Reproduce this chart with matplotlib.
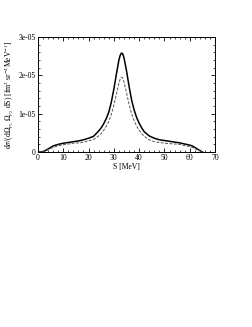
import matplotlib
matplotlib.use("Agg")
import matplotlib.pyplot as plt
from matplotlib.ticker import MultipleLocator, FuncFormatter

plt.rcParams['font.family'] = ['Liberation Serif', 'DejaVu Serif']
plt.rcParams['mathtext.fontset'] = 'stix'

S = [0, 1, 2, 3, 4, 5, 6, 7, 8, 10, 12, 14, 16, 18, 20, 22, 24, 25, 26, 27, 28, 29, 30, 31, 32, 32.5, 33,
     33.5, 34, 35, 36, 37, 38, 39, 40, 41, 42, 44, 46, 48, 50, 52, 54, 56, 58, 60, 61, 62, 63, 64, 65]
solid = [0, 0, 0.01, 0.04, 0.08, 0.12, 0.16, 0.18, 0.20, 0.23, 0.25, 0.27, 0.29, 0.32, 0.36, 0.41, 0.55,
         0.63, 0.74, 0.87, 1.04, 1.30, 1.64, 2.03, 2.40, 2.52, 2.58, 2.56, 2.46, 2.12, 1.72, 1.36, 1.10,
         0.90, 0.75, 0.63, 0.53, 0.42, 0.36, 0.32, 0.30, 0.28, 0.26, 0.24, 0.21, 0.18, 0.16, 0.12, 0.08,
         0.04, 0.0]
dashed = [0, 0, 0.01, 0.03, 0.06, 0.09, 0.12, 0.14, 0.16, 0.19, 0.21, 0.23, 0.24, 0.26, 0.29, 0.33, 0.42,
          0.48, 0.57, 0.67, 0.80, 0.98, 1.22, 1.50, 1.80, 1.90, 1.95, 1.93, 1.83, 1.55, 1.25, 1.00, 0.82,
          0.68, 0.57, 0.48, 0.41, 0.32, 0.27, 0.25, 0.23, 0.22, 0.21, 0.20, 0.17, 0.14, 0.12, 0.09, 0.06,
          0.03, 0.0]
scale = 1e-5

fig = plt.figure(figsize=(2.53, 3.27), dpi=100)
ax = fig.add_axes([0.150, 0.535, 0.700, 0.352])
ax.plot(S, [v * scale for v in solid], color='black', lw=1.1)
ax.plot(S, [v * scale for v in dashed], color='#555555', lw=0.7, ls=(0, (3, 1.5)))

ax.set_xlim(0, 70)
ax.set_ylim(0, 3e-5)
ax.xaxis.set_major_locator(MultipleLocator(10))
ax.xaxis.set_minor_locator(MultipleLocator(2))
ax.yaxis.set_major_locator(MultipleLocator(1e-5))
ax.yaxis.set_minor_locator(MultipleLocator(2e-6))

def yfmt(v, pos):
    if abs(v) < 1e-12:
        return '0'
    return '%de-05' % round(v / 1e-5)
ax.yaxis.set_major_formatter(FuncFormatter(yfmt))

ax.tick_params(which='both', direction='in', top=True, right=True, labelsize=5.5, pad=1.5)
ax.tick_params(which='major', length=3, width=0.6)
ax.tick_params(which='minor', length=1.5, width=0.5)
for sp in ax.spines.values():
    sp.set_linewidth(0.7)

ax.set_xlabel('S [MeV]', fontsize=5.5, labelpad=0.5)
ax.set_ylabel(r'd$\sigma$/(d$\Omega_{p_1}\,\Omega_{p_2}$ dS) [fm$^2$ sr$^{-2}$MeV$^{-1}$]', fontsize=5.5, labelpad=2)

fig.savefig('out.png', dpi=100)
